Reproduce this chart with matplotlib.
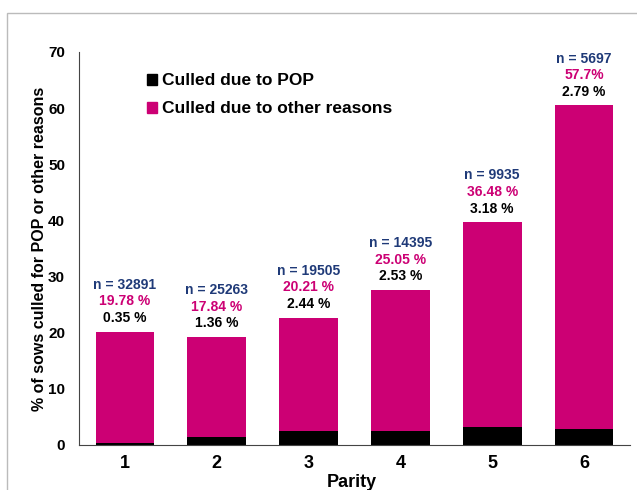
import matplotlib
matplotlib.use("Agg")
import matplotlib.pyplot as plt
from matplotlib.patches import Rectangle, Patch

parity = ["1", "2", "3", "4", "5", "6"]
pop = [0.35, 1.36, 2.44, 2.53, 3.18, 2.79]
other = [19.78, 17.84, 20.21, 25.05, 36.48, 57.7]
n_labels = ["n = 32891", "n = 25263", "n = 19505", "n = 14395", "n = 9935", "n = 5697"]
other_labels = ["19.78 %", "17.84 %", "20.21 %", "25.05 %", "36.48 %", "57.7%"]
pop_labels = ["0.35 %", "1.36 %", "2.44 %", "2.53 %", "3.18 %", "2.79 %"]

MAG = "#CC0074"
NAVY = "#1F3A78"

plt.rcParams['font.family'] = ['Liberation Sans', 'DejaVu Sans']
plt.rcParams['font.weight'] = 'bold'

fig = plt.figure(figsize=(6.37, 4.9), dpi=100)
ax = fig.add_axes([0.124, 0.092, 0.865, 0.802])

x = list(range(1, len(parity) + 1))
ax.bar(x, pop, width=0.64, color="black", label="Culled due to POP")
ax.bar(x, other, width=0.64, bottom=pop, color=MAG, label="Culled due to other reasons")

for xi, p, o, nl, ol, pl in zip(x, pop, other, n_labels, other_labels, pop_labels):
    top = p + o
    ax.annotate(pl, (xi, top), xytext=(0, 9.9), textcoords="offset points",
                ha="center", va="center", fontsize=10, fontweight="bold", color="black")
    ax.annotate(ol, (xi, top), xytext=(0, 21.9), textcoords="offset points",
                ha="center", va="center", fontsize=10, fontweight="bold", color=MAG)
    ax.annotate(nl, (xi, top), xytext=(0, 33.7), textcoords="offset points",
                ha="center", va="center", fontsize=10, fontweight="bold", color=NAVY)

ax.set_xlim(0.5, 6.5)
ax.set_ylim(0, 70)
ax.set_yticks(range(0, 71, 10))
ax.set_xticks(x)
ax.set_xticklabels(parity)
ax.tick_params(axis="y", length=0, labelsize=11, pad=10)
ax.tick_params(axis="x", length=0, labelsize=13, pad=7)
for lab in ax.get_xticklabels() + ax.get_yticklabels():
    lab.set_fontweight("bold")
ax.spines["top"].set_visible(False)
ax.spines["right"].set_visible(False)
ax.spines["left"].set_color("#444444")
ax.spines["bottom"].set_color("#444444")

ax.set_ylabel("% of sows culled for POP or other reasons", fontsize=11.5, fontweight="bold", labelpad=1)
fig.text(0.553, 0.016, "Parity", ha="center", va="center", fontsize=13, fontweight="bold")

handles = [Patch(color="black"), Patch(color=MAG)]
ax.legend(handles, ["Culled due to POP", "Culled due to other reasons"],
          loc="upper left", bbox_to_anchor=(0.095, 0.985), frameon=False,
          prop={"size": 12.5, "weight": "bold"}, handlelength=0.55, handleheight=0.55,
          handletextpad=0.3, labelspacing=0.75)

# light grey frame
fig.patches.append(Rectangle((7 / 637, -0.1), 1.2, 0.1 + (1 - 13 / 490), transform=fig.transFigure,
                             fill=False, edgecolor="#BBBBBB", linewidth=1.0))

fig.savefig("out.png", dpi=100)
